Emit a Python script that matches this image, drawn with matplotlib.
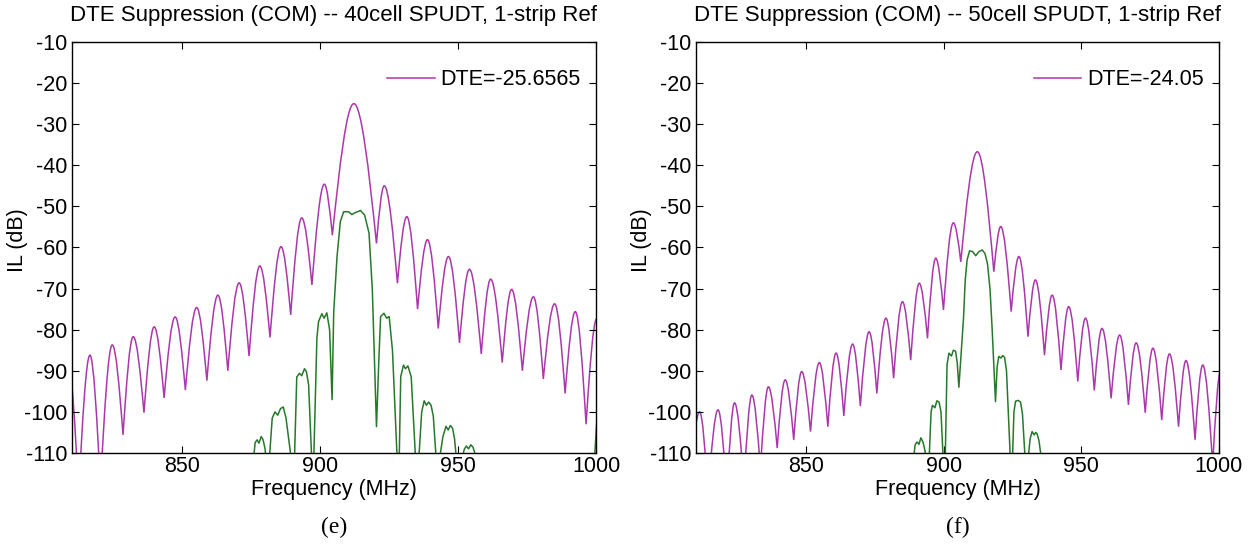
import matplotlib
matplotlib.use('Agg')
import matplotlib.pyplot as plt
from matplotlib.path import Path
from matplotlib.patches import PathPatch
from matplotlib.lines import Line2D

# ---------------- data ----------------
titles = ['DTE Suppression (COM) -- 40cell SPUDT, 1-strip Ref',
          'DTE Suppression (COM) -- 50cell SPUDT, 1-strip Ref']
dte_labels = ['DTE=-25.6565', 'DTE=-24.05']
panel_tags = ['(e)', '(f)']
x_label = 'Frequency (MHz)'
y_label = 'IL (dB)'
x_ticks = [850, 900, 950, 1000]
y_ticks = [-110, -100, -90, -80, -70, -60, -50, -40, -30, -20, -10]
x_range = [810, 1000]
y_range = [-110, -10]

# magenta curve, panel (e): alternating null / lobe-peak (frequency MHz, IL dB)
mag_e_freq = [805.0, 808.6, 812.4, 816.5, 820.3, 824.6, 828.5, 832.2, 836.1, 839.8,
              843.4, 847.4, 851.1, 855.2, 858.9, 862.9, 866.5, 870.6, 874.2, 878.1,
              881.8, 885.8, 889.3, 893.3, 897.0, 901.5, 904.4, 912.2, 920.4, 923.2,
              928.0, 931.4, 935.3, 938.9, 942.8, 946.5, 950.5, 954.1, 958.4, 961.8,
              966.0, 969.4, 973.3, 977.3, 980.9, 985.0, 988.8, 992.5, 996.4, 1000.3,
              1004.0]
mag_e_db = [-120.0, -88.3, -120.0, -86.2, -118.0, -83.7, -105.6, -81.7, -100.2, -79.3,
            -96.6, -76.9, -94.7, -74.6, -92.4, -71.6, -90.0, -68.6, -86.4, -64.5,
            -81.9, -59.8, -76.4, -52.8, -69.1, -44.6, -57.0, -25.0, -59.0, -45.0,
            -68.7, -52.5, -75.0, -58.1, -79.7, -62.2, -83.2, -65.3, -85.9, -67.7,
            -88.0, -70.2, -90.0, -72.0, -92.0, -73.7, -95.5, -75.6, -103.0, -77.3,
            -105.0]

# green curve, panel (e)
grn_e_freq = [875.6, 876.4, 877.1, 877.8, 878.6, 879.3, 880.0, 880.6,
              881.4, 882.6, 883.6, 884.6, 885.6, 886.6, 887.6, 889.8,
              890.6, 891.5, 892.5, 893.3, 894.3, 895.0, 895.8, 897.0,
              897.6, 898.8, 899.4, 900.6, 901.4, 902.4, 903.4, 904.3,
              904.9, 906.1, 907.3, 908.5, 910.3, 911.5, 912.4, 914.6, 916.1, 917.7, 918.9, 920.4,
              921.3, 921.9, 923.1, 924.1, 925.0, 926.2, 928.0,
              928.6, 929.2, 930.2, 930.9, 931.8, 933.0, 934.7,
              935.6, 936.8, 937.7, 938.5, 939.3, 940.2, 941.0, 942.2,
              942.9, 944.5, 945.6, 946.4, 947.2, 948.0, 948.7, 949.6,
              950.6, 952.3, 953.0, 953.8, 954.6, 955.4, 956.3, 957.5]
grn_e_db = [-113.0, -107.5, -106.8, -107.6, -106.0, -106.8, -109.0, -113.0,
            -113.0, -101.5, -100.0, -100.8, -99.2, -98.8, -101.5, -113.0,
            -113.0, -91.5, -90.6, -91.2, -89.5, -90.2, -93.5, -113.0,
            -113.0, -82.0, -78.0, -76.1, -77.2, -75.9, -80.0, -97.0,
            -75.6, -62.2, -53.7, -51.3, -51.3, -52.0, -51.6, -51.0, -52.1, -56.5, -70.3, -103.6,
            -86.6, -76.8, -76.0, -77.2, -76.8, -85.0, -113.0,
            -113.0, -91.4, -88.6, -89.5, -88.8, -91.5, -113.0,
            -113.0, -100.0, -97.3, -98.4, -97.6, -98.4, -101.0, -113.0,
            -113.0, -106.0, -103.5, -104.4, -103.3, -104.0, -106.5, -113.0,
            -113.0, -109.0, -108.3, -109.0, -108.0, -108.6, -110.5, -113.0]
grn_e_edge_freq = [999.3, 1000.5]
grn_e_edge_db = [-113.0, -100.0]

# magenta curve, panel (f): alternating null / lobe-peak
mag_f_freq = [808.0, 811.3, 814.4, 818.0, 821.2, 824.0, 827.4, 830.3, 833.4, 836.3,
              839.5, 842.4, 845.5, 848.4, 851.6, 854.8, 857.9, 860.9, 863.7, 866.9,
              869.7, 872.9, 875.7, 879.0, 881.8, 885.0, 888.0, 891.1, 894.1, 897.1,
              899.9, 903.5, 906.2, 912.2, 918.2, 920.7, 924.5, 927.3, 930.6, 933.3,
              936.6, 939.4, 942.6, 945.4, 948.7, 951.5, 954.7, 957.5, 960.8, 963.9,
              967.1, 969.9, 973.2, 976.0, 979.2, 982.0, 985.3, 988.0, 991.3, 994.1,
              997.7, 1000.6, 1004.0]
mag_f_db = [-115.0, -100.0, -120.0, -99.5, -120.0, -97.8, -118.0, -95.9, -114.0, -93.9,
            -108.8, -92.2, -106.8, -90.2, -104.8, -88.0, -103.6, -85.7, -101.0, -83.5,
            -98.6, -80.5, -95.5, -77.2, -91.8, -73.2, -87.4, -68.7, -82.1, -62.6,
            -75.2, -54.0, -63.5, -36.7, -65.9, -54.9, -75.6, -62.2, -81.7, -67.9,
            -86.2, -71.6, -89.8, -74.4, -92.6, -77.2, -94.8, -79.7, -96.7, -81.3,
            -98.3, -83.2, -100.2, -84.5, -102.0, -85.9, -103.6, -87.5, -106.8, -88.6,
            -113.0, -90.0, -115.0]

# green curve, panel (f)
grn_f_freq = [888.8, 889.6, 890.3, 891.0, 891.7, 892.5, 893.2, 894.0,
              894.6, 895.4, 895.9, 896.8, 897.5, 898.3, 899.0, 899.9,
              900.5, 901.2, 901.9, 902.8, 903.5, 904.3, 904.9, 905.5,
              906.3, 907.2, 907.8, 908.5, 909.4, 910.5, 911.6, 912.8, 914.0, 915.0, 915.9,
              916.8, 917.6, 918.8,
              919.4, 920.0, 920.8, 921.4, 922.1, 922.8, 924.3,
              924.9, 925.5, 926.1, 927.0, 927.9, 928.6, 929.7,
              930.4, 931.4, 932.1, 932.9, 933.4, 933.9, 934.6, 935.8]
grn_f_db = [-113.0, -108.0, -107.3, -107.9, -106.3, -107.4, -109.5, -113.0,
            -113.0, -100.0, -98.4, -99.0, -97.3, -97.6, -100.0, -113.0,
            -113.0, -88.5, -85.7, -86.4, -85.0, -85.2, -88.0, -94.0,
            -86.0, -77.0, -68.0, -63.0, -60.8, -61.0, -62.0, -61.0, -60.6, -61.5, -64.0,
            -70.0, -80.0, -97.5,
            -89.0, -86.5, -86.9, -86.3, -86.7, -90.0, -113.0,
            -113.0, -100.0, -97.4, -97.2, -97.6, -100.5, -113.0,
            -113.0, -106.5, -104.8, -105.6, -105.0, -105.3, -107.0, -113.0]

MAG = '#ab38ab'
GRN = '#27782a'


def lobe_path(freqs, dbs):
    """Smooth lobes (rounded tops, sharp nulls) through null/peak extrema."""
    verts = [(freqs[0], dbs[0])]
    codes = [Path.MOVETO]
    for i in range(len(freqs) - 1):
        a, ya = freqs[i], dbs[i]
        b, yb = freqs[i + 1], dbs[i + 1]
        if yb > ya:   # rising into a peak
            c1 = (a + (b - a) / 3.0, ya + (yb - ya) * 0.524)
            c2 = (a + 2.0 * (b - a) / 3.0, yb)
        else:         # falling out of a peak
            c1 = (a + (b - a) / 3.0, ya)
            c2 = (a + 2.0 * (b - a) / 3.0, yb + (ya - yb) * 0.524)
        verts += [c1, c2, (b, yb)]
        codes += [Path.CURVE4] * 3
    return Path(verts, codes)


plt.rcParams['font.family'] = ['Liberation Sans', 'DejaVu Sans']
plt.rcParams['axes.unicode_minus'] = False

fig = plt.figure(figsize=(12.52, 5.50), dpi=100)
ax_rects = [[72 / 1252, 97 / 550, 524 / 1252, 411 / 550],
            [696 / 1252, 97 / 550, 523 / 1252, 411 / 550]]

panels = [(mag_e_freq, mag_e_db, [(grn_e_freq, grn_e_db), (grn_e_edge_freq, grn_e_edge_db)]),
          (mag_f_freq, mag_f_db, [(grn_f_freq, grn_f_db)])]

FS = 15.5
for k, rect in enumerate(ax_rects):
    ax = fig.add_axes(rect)
    mf, mdb, greens = panels[k]
    for gf, gdb in greens:
        ax.plot(gf, gdb, color=GRN, lw=1.1)
    ax.add_patch(PathPatch(lobe_path(mf, mdb), facecolor='none',
                           edgecolor=MAG, lw=1.1))
    ax.set_xlim(x_range)
    ax.set_ylim(y_range)
    ax.set_xticks(x_ticks)
    ax.set_yticks(y_ticks)
    ax.tick_params(direction='in', length=5, width=0.8, top=True, right=True,
                   labelsize=FS)
    ax.tick_params(axis='x', pad=2.5)
    ax.tick_params(axis='y', pad=3.5)
    for s in ax.spines.values():
        s.set_linewidth(1.0)
    handle = Line2D([], [], color=MAG, lw=1.1)
    ax.legend([handle], [dte_labels[k]], loc='upper right', frameon=False,
              fontsize=FS, handlelength=2.2, handletextpad=0.25,
              borderaxespad=0.2, bbox_to_anchor=(0.995, 0.965))
    cx = (rect[0] + rect[2] / 2)
    fig.text(cx, 1 - 15 / 550, titles[k], ha='center', va='center', fontsize=16)
    fig.text(cx, 1 - 489 / 550, x_label, ha='center', va='center', fontsize=FS)
    fig.text((18 if k == 0 else 641) / 1252, 1 - 240 / 550, y_label, rotation=90,
             ha='center', va='center', fontsize=FS)
    fig.text(cx, 1 - 527 / 550, panel_tags[k], ha='center', va='center',
             fontsize=17, family=['Liberation Serif', 'DejaVu Serif'])

fig.savefig('out.png', dpi=100)
